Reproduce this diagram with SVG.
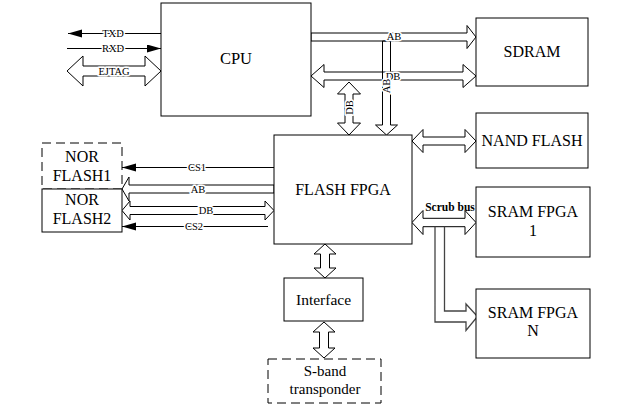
<svg xmlns="http://www.w3.org/2000/svg" width="623" height="407" viewBox="0 0 623 407">
<style>
.box{fill:#fff;stroke:#000;stroke-width:1}
.dash{fill:#fff;stroke:#000;stroke-width:1;stroke-dasharray:9,5}
.t{font-family:'Liberation Serif','Times New Roman',serif;font-size:16px;text-anchor:middle;fill:#000}
.s{font-family:'Liberation Serif','Times New Roman',serif;font-size:10.5px;text-anchor:middle;fill:#000;stroke:#fff;stroke-width:3;paint-order:stroke;stroke-linejoin:round}
.b{font-family:'Liberation Serif','Times New Roman',serif;font-size:11.5px;font-weight:bold;text-anchor:middle;fill:#000}
.ha{fill:#fff;stroke:#000;stroke-width:1;stroke-linejoin:miter}
.hn{fill:none;stroke:#000;stroke-width:1}
.ln{stroke:#000;stroke-width:1.2;fill:none}
</style>
<defs>
<marker id="ah" markerWidth="16" markerHeight="10" refX="14" refY="4" orient="auto" markerUnits="userSpaceOnUse">
<path d="M0,0 L14,4 L0,8 z" fill="#000"/>
</marker>
</defs>
<g id="connectors">
<line class="ln" x1="161" y1="33.5" x2="68" y2="33.5" marker-end="url(#ah)"/>
<line class="ln" x1="67" y1="48.5" x2="161" y2="48.5" marker-end="url(#ah)"/>
<polygon class="ha" points="67,71 83,56 83,66 145,66 145,56 161,71 145,86 145,76 83,76 83,86"/>
<polygon class="ha" points="311,33 467,33 467,25.5 476,37 467,48.5 467,41 311,41"/>
<polygon class="ha" points="311,76 324,64.5 324,72 463,72 463,64.5 476,76 463,87.5 463,80 324,80 324,87.5"/>
<polygon class="hn" points="382.5,41 390.5,41 390.5,125 397.5,125 386.5,135 375.5,125 382.5,125"/>
<polygon class="ha" points="349,82 360.5,94 353,94 353,123 360.5,123 349,135 337.5,123 345,123 345,94 337.5,94"/>
<polygon class="ha" points="412,141 423,129.5 423,137 465,137 465,129.5 476,141 465,152.5 465,145 423,145 423,152.5"/>
<polygon class="ha" points="412,222.5 423,210.5 423,218.3 465,218.3 465,210.5 476,222.5 465,234.5 465,226.7 423,226.7 423,234.5"/>
<path d="M435,226.7 L435,322 L466,322 L466,330.5 L477.5,316.5 L466,304 L466,311 L444.5,311 L444.5,226.7" fill="none" stroke="#444" stroke-width="1.3"/>
<polygon class="ha" points="325,244 336,254 329.5,254 329.5,268 336,268 325,278 314,268 320.5,268 320.5,254 314,254"/>
<polygon class="ha" points="324,322 335,332 328.5,332 328.5,348 335,348 324,358 313,348 319.5,348 319.5,332 313,332"/>
<line class="ln" x1="274" y1="167.5" x2="122" y2="167.5" marker-end="url(#ah)"/>
<polygon class="ha" points="274,185 129,185 129,177 122,189 129,201 129,193 274,193"/>
<polygon class="ha" points="122,210.5 130,201 130,206.5 265,206.5 265,201 274,210.5 265,220 265,214.5 130,214.5 130,220"/>
<line class="ln" x1="268" y1="226.5" x2="122" y2="226.5" marker-end="url(#ah)"/>
<text class="s" x="113" y="37">TXD</text>
<text class="s" x="113" y="52">RXD</text>
<text class="s" x="114" y="75">EJTAG</text>
<text class="s" x="394" y="40">AB</text>
<text class="s" x="393" y="79.5">DB</text>
<text class="s" transform="translate(390,86) rotate(-90)" x="0" y="0">AB</text>
<text class="s" transform="translate(352.5,107.5) rotate(-90)" x="0" y="0">DB</text>
<text class="s" x="197" y="171">CS1</text>
<text class="s" x="198" y="192.5">AB</text>
<text class="s" x="206" y="214">DB</text>
<text class="s" x="194" y="230">CS2</text>
<text class="b" x="450" y="211">Scrub bus</text>
</g>
<g id="cpu"><rect class="box" x="161" y="3" width="150" height="113"/><text class="t" x="236" y="64" style="font-size:16.5px">CPU</text></g>
<g id="sdram"><rect class="box" x="476" y="18" width="112" height="68"/><text class="t" x="532" y="57">SDRAM</text></g>
<g id="flashfpga"><rect class="box" x="274" y="135" width="138" height="109"/><text class="t" x="343" y="195">FLASH FPGA</text></g>
<g id="nandflash"><rect class="box" x="476" y="113" width="112" height="55"/><text class="t" x="532" y="146">NAND FLASH</text></g>
<g id="sramfpga1"><rect class="box" x="476" y="187" width="114" height="70"/><text class="t" x="533" y="217">SRAM FPGA</text><text class="t" x="533" y="236">1</text></g>
<g id="sramfpgan"><rect class="box" x="476" y="289" width="114" height="69"/><text class="t" x="533" y="318">SRAM FPGA</text><text class="t" x="533" y="336">N</text></g>
<g id="interface"><rect class="box" x="284" y="278" width="79" height="43"/><text class="t" x="323.5" y="305" style="font-size:15.5px">Interface</text></g>
<g id="sband"><rect class="dash" x="268" y="359" width="113" height="44"/><text class="t" x="325" y="376" style="font-size:15px">S-band</text><text class="t" x="325" y="394" style="font-size:15px">transponder</text></g>
<g id="norflash1"><rect class="dash" x="42" y="143" width="80" height="46"/><text class="t" x="82" y="162">NOR</text><text class="t" x="82" y="181">FLASH1</text></g>
<g id="norflash2"><rect class="box" x="42" y="189" width="80" height="43"/><text class="t" x="82" y="205">NOR</text><text class="t" x="82" y="224">FLASH2</text></g>
</svg>
